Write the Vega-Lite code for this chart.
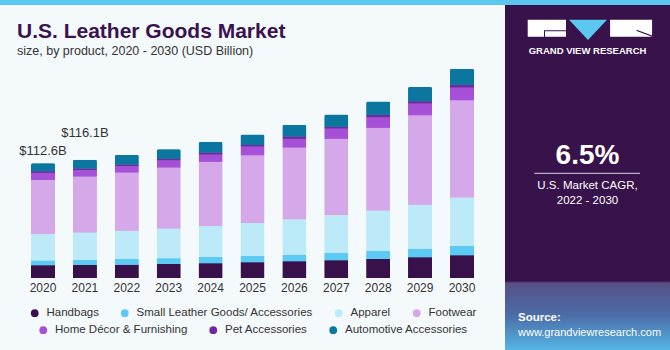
{
  "$schema": "https://vega.github.io/schema/vega-lite/v6.json",
  "background": "#f4f9fc",
  "padding": 0,
  "autosize": {"type": "pad"},
  "config": {
    "view": {"stroke": null},
    "font": "Liberation Sans",
    "axis": {"title": null, "domain": false, "ticks": false, "grid": false, "labelAngle": 0, "labelFontSize": 12, "labelColor": "#333333", "labelPadding": 4, "labelFont": "Liberation Sans"},
    "legend": {
      "orient": "bottom", "direction": "horizontal", "title": null,
      "symbolType": "circle", "symbolSize": 60, "labelFontSize": 11.5, "labelColor": "#333333",
      "labelFont": "Liberation Sans", "columnPadding": 20, "labelOffset": 6, "offset": 14, "labelLimit": 300,
      "layout": {"bottom": {"anchor": "middle", "direction": "vertical", "center": true, "margin": 5}}
    }
  },
  "datasets": {
    "bars": [
      {"year": "2020", "product": "Handbags", "value": 12.4},
      {"year": "2020", "product": "Small Leather Goods/ Accessories", "value": 4.9},
      {"year": "2020", "product": "Apparel", "value": 25.8},
      {"year": "2020", "product": "Footwear", "value": 53.2},
      {"year": "2020", "product": "Home Décor & Furnishing", "value": 7.1},
      {"year": "2020", "product": "Pet Accessories", "value": 1.3},
      {"year": "2020", "product": "Automotive Accessories", "value": 7.9},
      {"year": "2021", "product": "Handbags", "value": 12.8},
      {"year": "2021", "product": "Small Leather Goods/ Accessories", "value": 4.9},
      {"year": "2021", "product": "Apparel", "value": 26.9},
      {"year": "2021", "product": "Footwear", "value": 55.0},
      {"year": "2021", "product": "Home Décor & Furnishing", "value": 6.5},
      {"year": "2021", "product": "Pet Accessories", "value": 1.3},
      {"year": "2021", "product": "Automotive Accessories", "value": 8.7},
      {"year": "2022", "product": "Handbags", "value": 13.1},
      {"year": "2022", "product": "Small Leather Goods/ Accessories", "value": 5.6},
      {"year": "2022", "product": "Apparel", "value": 27.8},
      {"year": "2022", "product": "Footwear", "value": 57.0},
      {"year": "2022", "product": "Home Décor & Furnishing", "value": 6.5},
      {"year": "2022", "product": "Pet Accessories", "value": 1.3},
      {"year": "2022", "product": "Automotive Accessories", "value": 9.5},
      {"year": "2023", "product": "Handbags", "value": 13.8},
      {"year": "2023", "product": "Small Leather Goods/ Accessories", "value": 5.6},
      {"year": "2023", "product": "Apparel", "value": 29.1},
      {"year": "2023", "product": "Footwear", "value": 59.9},
      {"year": "2023", "product": "Home Décor & Furnishing", "value": 7.2},
      {"year": "2023", "product": "Pet Accessories", "value": 1.3},
      {"year": "2023", "product": "Automotive Accessories", "value": 9.5},
      {"year": "2024", "product": "Handbags", "value": 14.4},
      {"year": "2024", "product": "Small Leather Goods/ Accessories", "value": 6.2},
      {"year": "2024", "product": "Apparel", "value": 30.5},
      {"year": "2024", "product": "Footwear", "value": 62.9},
      {"year": "2024", "product": "Home Décor & Furnishing", "value": 7.2},
      {"year": "2024", "product": "Pet Accessories", "value": 2.0},
      {"year": "2024", "product": "Automotive Accessories", "value": 10.2},
      {"year": "2025", "product": "Handbags", "value": 15.4},
      {"year": "2025", "product": "Small Leather Goods/ Accessories", "value": 6.2},
      {"year": "2025", "product": "Apparel", "value": 32.4},
      {"year": "2025", "product": "Footwear", "value": 66.5},
      {"year": "2025", "product": "Home Décor & Furnishing", "value": 8.5},
      {"year": "2025", "product": "Pet Accessories", "value": 1.6},
      {"year": "2025", "product": "Automotive Accessories", "value": 10.2},
      {"year": "2026", "product": "Handbags", "value": 16.4},
      {"year": "2026", "product": "Small Leather Goods/ Accessories", "value": 6.5},
      {"year": "2026", "product": "Apparel", "value": 34.7},
      {"year": "2026", "product": "Footwear", "value": 70.4},
      {"year": "2026", "product": "Home Décor & Furnishing", "value": 8.8},
      {"year": "2026", "product": "Pet Accessories", "value": 2.0},
      {"year": "2026", "product": "Automotive Accessories", "value": 11.5},
      {"year": "2027", "product": "Handbags", "value": 17.4},
      {"year": "2027", "product": "Small Leather Goods/ Accessories", "value": 7.2},
      {"year": "2027", "product": "Apparel", "value": 37.3},
      {"year": "2027", "product": "Footwear", "value": 74.7},
      {"year": "2027", "product": "Home Décor & Furnishing", "value": 10.2},
      {"year": "2027", "product": "Pet Accessories", "value": 1.6},
      {"year": "2027", "product": "Automotive Accessories", "value": 12.1},
      {"year": "2028", "product": "Handbags", "value": 18.7},
      {"year": "2028", "product": "Small Leather Goods/ Accessories", "value": 7.9},
      {"year": "2028", "product": "Apparel", "value": 39.6},
      {"year": "2028", "product": "Footwear", "value": 81.2},
      {"year": "2028", "product": "Home Décor & Furnishing", "value": 10.5},
      {"year": "2028", "product": "Pet Accessories", "value": 2.3},
      {"year": "2028", "product": "Automotive Accessories", "value": 13.1},
      {"year": "2029", "product": "Handbags", "value": 20.3},
      {"year": "2029", "product": "Small Leather Goods/ Accessories", "value": 8.5},
      {"year": "2029", "product": "Apparel", "value": 43.2},
      {"year": "2029", "product": "Footwear", "value": 87.7},
      {"year": "2029", "product": "Home Décor & Furnishing", "value": 11.5},
      {"year": "2029", "product": "Pet Accessories", "value": 2.3},
      {"year": "2029", "product": "Automotive Accessories", "value": 14.1},
      {"year": "2030", "product": "Handbags", "value": 22.3},
      {"year": "2030", "product": "Small Leather Goods/ Accessories", "value": 9.2},
      {"year": "2030", "product": "Apparel", "value": 47.5},
      {"year": "2030", "product": "Footwear", "value": 95.6},
      {"year": "2030", "product": "Home Décor & Furnishing", "value": 12.4},
      {"year": "2030", "product": "Pet Accessories", "value": 2.6},
      {"year": "2030", "product": "Automotive Accessories", "value": 15.7}
    ],
    "products": [
      {"product": "Handbags", "k": 1},
      {"product": "Small Leather Goods/ Accessories", "k": 2},
      {"product": "Apparel", "k": 3},
      {"product": "Footwear", "k": 4},
      {"product": "Home Décor & Furnishing", "k": 5},
      {"product": "Pet Accessories", "k": 6},
      {"product": "Automotive Accessories", "k": 7}
    ],
    "totals": [
      {"year": "2020", "total": 112.6, "label": "$112.6B"},
      {"year": "2021", "total": 116.1, "label": "$116.1B"}
    ],
    "panel": [
      {"key": "logo", "piece": "G"},
      {"key": "logo", "piece": "V"},
      {"key": "logo", "piece": "R"},
      {"key": "brand", "text": "GRAND VIEW RESEARCH"},
      {"key": "cagr", "text": "6.5%"},
      {"key": "rule"},
      {"key": "line1", "text": "U.S. Market CAGR,"},
      {"key": "line2", "text": "2022 - 2030"},
      {"key": "source", "text": "Source:"},
      {"key": "url", "text": "www.grandviewresearch.com"}
    ]
  },
  "spacing": 0,
  "vconcat": [
    {
      "width": 670, "height": 5,
      "data": {"values": []},
      "mark": "point",
      "view": {"fill": "#5cc8f0", "stroke": null}
    },
    {
      "spacing": 0,
      "hconcat": [
        {
          "width": 505, "height": 273,
          "title": {
            "text": "U.S. Leather Goods Market",
            "subtitle": "size, by product, 2020 - 2030 (USD Billion)",
            "anchor": "start", "frame": "group", "dx": 17,
            "font": "Liberation Sans", "fontSize": 21, "fontWeight": "bold", "color": "#3a1250",
            "subtitleFont": "Liberation Sans", "subtitleFontSize": 12.5, "subtitleColor": "#333333", "subtitlePadding": 3,
            "offset": -52
          },
          "encoding": {
            "x": {"field": "year", "type": "ordinal", "scale": {"paddingInner": 0.4274, "paddingOuter": 0.74}}
          },
          "layer": [
            {
              "data": {"name": "bars"},
              "transform": [{"lookup": "product", "from": {"data": {"name": "products"}, "key": "product", "fields": ["k"]}}],
              "mark": {"type": "bar", "cornerRadiusEnd": 2},
              "encoding": {
                "y": {"field": "value", "type": "quantitative", "stack": "zero", "scale": {"domain": [0, 268], "nice": false}, "axis": null},
                "color": {
                  "field": "product", "type": "nominal",
                  "scale": {"domain": ["Handbags", "Small Leather Goods/ Accessories", "Apparel", "Footwear", "Home Décor & Furnishing", "Pet Accessories", "Automotive Accessories"],
                            "range": ["#38114a", "#5ccaf5", "#bdeaf9", "#d5a8ea", "#a550d6", "#6f2a9e", "#0b77a0"]},
                  "legend": {"values": ["Handbags", "Small Leather Goods/ Accessories", "Apparel", "Footwear"]}
                },
                "order": {"field": "k", "type": "quantitative", "sort": "ascending"}
              }
            },
            {
              "data": {"name": "bars"},
              "transform": [{"lookup": "product", "from": {"data": {"name": "products"}, "key": "product", "fields": ["k"]}}],
              "mark": {"type": "bar", "cornerRadiusEnd": 2},
              "encoding": {
                "y": {"field": "value", "type": "quantitative", "stack": "zero"},
                "color": {
                  "field": "product", "type": "nominal",
                  "scale": {"domain": ["Handbags", "Small Leather Goods/ Accessories", "Apparel", "Footwear", "Home Décor & Furnishing", "Pet Accessories", "Automotive Accessories"],
                            "range": ["#38114a", "#5ccaf5", "#bdeaf9", "#d5a8ea", "#a550d6", "#6f2a9e", "#0b77a0"]},
                  "legend": {"values": ["Home Décor & Furnishing", "Pet Accessories", "Automotive Accessories"]}
                },
                "order": {"field": "k", "type": "quantitative", "sort": "ascending"}
              }
            },
            {
              "data": {"name": "totals"},
              "transform": [{"filter": {"field": "year", "equal": "2020"}}],
              "mark": {"type": "text", "dy": -12.6, "fontSize": 13, "color": "#333333"},
              "encoding": {"y": {"field": "total", "type": "quantitative"}, "text": {"field": "label"}}
            },
            {
              "data": {"name": "totals"},
              "transform": [{"filter": {"field": "year", "equal": "2021"}}],
              "mark": {"type": "text", "dy": -26.7, "fontSize": 13, "color": "#333333"},
              "encoding": {"y": {"field": "total", "type": "quantitative"}, "text": {"field": "label"}}
            }
          ],
          "resolve": {"scale": {"color": "independent"}, "legend": {"color": "independent"}}
        },
        {
          "width": 165, "height": 345,
          "view": {
            "fill": {"gradient": "linear", "x1": 0, "y1": 0, "x2": 0, "y2": 1,
                     "stops": [{"offset": 0, "color": "#38124a"}, {"offset": 0.8, "color": "#38124a"}, {"offset": 0.806, "color": "#574f86"}, {"offset": 0.9, "color": "#4b6da8"}, {"offset": 1, "color": "#55b5e5"}]},
            "stroke": null
          },
          "data": {"name": "panel"},
          "encoding": {
            "y": {"field": "key", "type": "nominal", "axis": null,
                  "scale": {"type": "point", "padding": 0,
                            "domain": ["t0", "t1", "logo", "brand", "t4", "t5", "t6", "t7", "t8", "t9", "cagr", "rule", "line1", "line2", "t14", "t15", "t16", "t17", "t18", "t19", "t20", "source", "url", "t23"]}}
          },
          "layer": [
            {
              "transform": [{"filter": {"field": "key", "equal": "logo"}}],
              "mark": {"type": "point", "filled": true, "size": 4, "opacity": 1, "yOffset": -6.7},
              "encoding": {
                "x": {"field": "piece", "type": "nominal", "axis": null, "scale": {"type": "point", "domain": ["G", "V", "R"], "padding": 0.96}},
                "shape": {"field": "piece", "type": "nominal", "legend": null,
                          "scale": {"domain": ["G", "V", "R"], "range": ["M-17.7,-8.5H20.6V8.5H-17.7Z M-1.4,2V3H20.6V2Z M-1.4,3V8.5H-0.4V3Z", "M-18.5,-8.5H19.5L0.5,11.7Z", "M-19.5,-8.5H22.5V8.5H-19.5Z M7,1.5L7,2.7L22.5,8.5L22.5,7.3Z"]}},
                "color": {"field": "piece", "type": "nominal", "legend": null,
                          "scale": {"domain": ["G", "V", "R"], "range": ["#ffffff", "#5cc8f0", "#ffffff"]}}
              }
            },
            {
              "transform": [{"filter": {"field": "key", "equal": "brand"}}],
              "mark": {"type": "text", "color": "#ffffff", "fontSize": 9.5, "fontWeight": "bold", "dy": 1},
              "encoding": {"text": {"field": "text"}}
            },
            {
              "transform": [{"filter": {"field": "key", "equal": "cagr"}}],
              "mark": {"type": "text", "color": "#ffffff", "fontSize": 28, "fontWeight": "bold", "dy": 1},
              "encoding": {"text": {"field": "text"}}
            },
            {
              "transform": [{"filter": {"field": "key", "equal": "rule"}}],
              "mark": {"type": "rule", "color": "#d9d2e3", "strokeWidth": 1, "yOffset": 3.3},
              "encoding": {
                "x": {"datum": 0.178, "type": "quantitative", "scale": {"domain": [0, 1]}, "axis": null},
                "x2": {"datum": 0.818}
              }
            },
            {
              "transform": [{"filter": {"oneOf": ["line1", "line2"], "field": "key"}}],
              "mark": {"type": "text", "color": "#ffffff", "fontSize": 11.5, "dy": 1},
              "encoding": {"text": {"field": "text"}}
            },
            {
              "transform": [{"filter": {"field": "key", "equal": "source"}}],
              "mark": {"type": "text", "color": "#ffffff", "fontSize": 11.5, "fontWeight": "bold", "align": "left", "dx": -69.5, "dy": -2},
              "encoding": {"text": {"field": "text"}}
            },
            {
              "transform": [{"filter": {"field": "key", "equal": "url"}}],
              "mark": {"type": "text", "color": "#ffffff", "fontSize": 11, "align": "left", "dx": -69.5, "dy": -2},
              "encoding": {"text": {"field": "text"}}
            }
          ],
          "resolve": {"scale": {"x": "independent"}}
        }
      ]
    }
  ]
}
